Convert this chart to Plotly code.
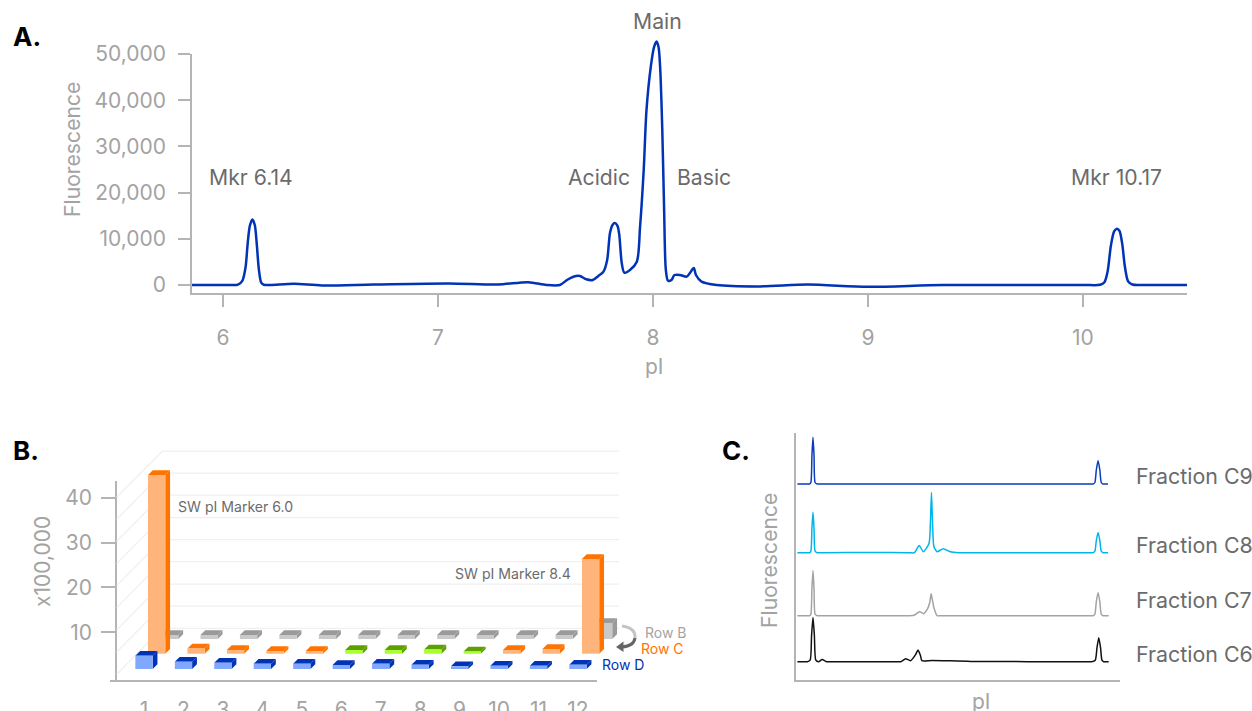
import plotly.graph_objects as go

W, H = 1252, 711
FONT = "Inter"
GREY_TICK = "#a3a3a3"
GREY_TEXT = "#6b6b6b"
AXIS_LINE = "#b4b4b4"

# ---------- Panel A: pI trace ----------
a_pi = [5.856, 6.0, 6.04, 6.07, 6.09, 6.105, 6.115, 6.125, 6.137, 6.148, 6.157, 6.167, 6.178, 6.19, 6.22, 6.33, 6.46, 6.7, 7.05,
        7.28, 7.42, 7.505, 7.567, 7.6, 7.63, 7.66, 7.69, 7.72, 7.746, 7.77, 7.787, 7.8, 7.812, 7.823, 7.835, 7.843, 7.855, 7.867,
        7.893, 7.925, 7.94, 7.957, 7.97, 7.99, 8.005, 8.017, 8.026, 8.033, 8.043, 8.052, 8.06, 8.07, 8.086, 8.10, 8.126, 8.157,
        8.172, 8.19, 8.2, 8.226, 8.296, 8.5, 8.72, 9.0, 9.35, 10.0, 10.08, 10.10, 10.115, 10.13, 10.145, 10.158, 10.17,
        10.183, 10.195, 10.21, 10.23, 10.27, 10.484]
a_fluor = [0, 0, 0, 100, 900, 3800, 9000, 12800, 14200, 13000, 9000, 3400, 500, 50, 0, 250, -100, 100, 350,
           100, 600, 0, 0, 1080, 1800, 1950, 1230, 1080, 1950, 2890, 5400, 11200, 13000, 13400, 12800, 11000, 4700, 2660,
           3250, 5040, 12600, 24900, 37900, 47260, 51500, 52700, 51500, 47500, 34300, 16200, 3250, 930, 1080, 2165, 2165, 1800,
           2600, 3680, 2165, 720, 0, -300, 100, -400, 0, 0, 50, 600, 3000, 8500, 11600, 12200, 11700,
           8800, 4000, 800, 100, 0, 0]
a_y_ticks = [0, 10000, 20000, 30000, 40000, 50000]
a_y_labels = ["0", "10,000", "20,000", "30,000", "40,000", "50,000"]
a_x_ticks = [6, 7, 8, 9, 10]

# ---------- Panel B: plate wells ----------
columns = [1, 2, 3, 4, 5, 6, 7, 8, 9, 10, 11, 12]
row_b = [0.9, 0.9, 0.9, 0.9, 0.9, 0.9, 0.9, 0.9, 0.9, 0.9, 0.9, 3.6]
row_c = [39.8, 1.19, 0.82, 0.6, 0.6, 0.82, 0.82, 0.96, 0.52, 0.82, 1.04, 21.1]
row_d = [2.97, 1.63, 1.41, 1.19, 1.19, 0.9, 1.19, 0.97, 0.6, 0.74, 0.74, 0.97]
row_c_color = ["orange"] * 5 + ["green"] * 4 + ["orange"] * 3
b_y_ticks = [10, 20, 30, 40]
wall_levels = [0.65, 5.6, 10.5, 15.5, 20.4, 25.3, 30.3, 35.2, 40.1]

# ---------- Panel C: fractions ----------
c9_pi = [5.92, 6.05, 6.09, 6.11, 6.125, 6.14, 6.155, 6.17, 6.20, 6.26, 10.04, 10.10, 10.125, 10.145, 10.17, 10.195, 10.215, 10.24, 10.27, 10.31]
c9_y = [0, 0, 0, 1.5, 28, 46.7, 28, 1.5, 0, 0, 0, 0, 1.5, 14, 23.3, 14, 1.5, 0, 0, 0]
c8_pi = [5.92, 6.05, 6.09, 6.11, 6.125, 6.14, 6.155, 6.17, 6.20, 6.26, 7.0, 7.50, 7.575, 7.64, 7.70, 7.78, 7.80, 7.815, 7.83, 7.85,
         7.895, 7.98, 8.08, 8.2, 8.4, 10.04, 10.10, 10.125, 10.145, 10.17, 10.195, 10.215, 10.24, 10.27, 10.31]
c8_y = [0, 0, 0, 1.5, 24, 40.7, 24, 1.5, 0, 0, 0.3, 0, 0, 7.3, 1, 9.3, 30, 60.3, 30, 6,
        1, 4, 1, 0, 0, 0, 0, 1.5, 12, 20.3, 12, 1.5, 0, 0, 0]
c7_pi = [5.92, 6.05, 6.09, 6.11, 6.125, 6.14, 6.155, 6.17, 6.20, 6.26, 7.40, 7.495, 7.57, 7.645, 7.705, 7.76, 7.79, 7.81, 7.83, 7.85,
         7.895, 7.95, 10.04, 10.10, 10.125, 10.145, 10.17, 10.195, 10.215, 10.24, 10.27, 10.32]
c7_y = [0, 0, 0, 1.5, 27, 45.3, 27, 1.5, 0, 0, 0, 0, 0.4, 4, 2, 7, 13, 22, 15, 8,
        0, 0, 0, 0, 1.5, 14, 23, 14, 1.5, 0, 0, 0]
c6_pi = [5.92, 6.03, 6.06, 6.10, 6.12, 6.14, 6.16, 6.18, 6.22, 6.27, 6.33, 6.40, 7.30, 7.38, 7.45, 7.52, 7.59, 7.625, 7.66, 7.68,
         7.825, 8.37, 10.02, 10.08, 10.13, 10.155, 10.18, 10.205, 10.225, 10.25, 10.28, 10.32]
c6_y = [0, 0, 0, 1.5, 26, 44.3, 26, 1.5, 0, 2.3, 0, 0, 0, 0, 3, 1, 7, 11.7, 6, 1,
        1.3, 0.3, 0, 0, 1.5, 14, 24, 14, 1.5, 0, 0, 0]
fraction_names = ["Fraction C9", "Fraction C8", "Fraction C7", "Fraction C6"]


def px(x):
    return x / W


def py(y):
    return 1 - y / H


fig = go.Figure()

# Axes that carry line, ticks and labels need one empty trace each
fig.add_trace(go.Scatter(x=[None], y=[None], xaxis="x", yaxis="y", hoverinfo="skip"))
fig.add_trace(go.Scatter(x=[None], y=[None], xaxis="x2", yaxis="y2", hoverinfo="skip"))

# Panel A, on a taller hidden axis of the same scale so the peak can rise above the 50,000 tick
A_TOP_PX = 30
a_per_px = (50000 + 1732) / (293 - 54)
a_hidden_top = 50000 + (54 - A_TOP_PX) * a_per_px
fig.add_trace(go.Scatter(x=a_pi, y=a_fluor, mode="lines", xaxis="x", yaxis="y4",
                         line=dict(color="#0033b5", width=2.5, shape="spline", smoothing=0.8), hoverinfo="skip"))

# Panel B: walls, on hidden axes of the same scale that reach past the visible axis lines
UX, UV = 39.45, 4.49   # pixels per column, pixels per axis unit
B_RIGHT_PX, B_TOP_PX = 645, 440
b_hidden_x = [0.138, 0.138 + (B_RIGHT_PX - 110) / UX]
b_hidden_y = [-0.62, -0.62 + (680 - B_TOP_PX) / UV]
wall_dx, wall_dy = 45.5 / UX, 46 / UV
wx, wy = [], []
for lv in wall_levels:
    wx += [0.308, 0.308 + wall_dx, 13.04, None]
    wy += [lv, lv + wall_dy, lv + wall_dy, None]
fig.add_trace(go.Scatter(x=wx, y=wy, mode="lines", xaxis="x5", yaxis="y5",
                         line=dict(color="#f0f0f0", width=1.3), hoverinfo="skip"))

PALETTE = {
    "grey": ("#c9c9c9", "#9a9a9a"),
    "orange": ("#ffb47c", "#ff7300"),
    "green": ("#a6ff2e", "#5fa000"),
    "blue": ("#80a8ff", "#0033b5"),
}
half = 8.65 / UX
dep_x, dep_y = 4.8 / UX, 4.7 / UV


def add_bar(col, value, x_shift, base, color):
    front, dark = PALETTE[color]
    x0, x1 = col + x_shift - half, col + x_shift + half
    y0, y1 = base, base + value
    faces = [
        ([x1, x1 + dep_x, x1 + dep_x, x1, x1], [y0, y0 + dep_y, y1 + dep_y, y1, y0], dark),
        ([x0, x0 + dep_x, x1 + dep_x, x1, x0], [y1, y1 + dep_y, y1 + dep_y, y1, y1], dark),
        ([x0, x1, x1, x0, x0], [y0, y0, y1, y1, y0], front),
    ]
    for fx, fy, c in faces:
        fig.add_trace(go.Scatter(x=fx, y=fy, mode="lines", fill="toself", fillcolor=c, xaxis="x5", yaxis="y5",
                                 line=dict(width=0), hoverinfo="skip"))


for c, v in zip(columns, row_b):
    add_bar(c, v, 0.65, 8.5, "grey")
for c, v, col in zip(columns, row_c, row_c_color):
    add_bar(c, v, 0.32, 5.23, col)
for c, v in zip(columns, row_d):
    add_bar(c, v, 0.0, 1.83, "blue")

# Panel C
offsets = [177.7, 109, 46, 0]
c_colors = ["#0a3db8", "#00b5e8", "#a3a3a3", "#111111"]
for xs, ys, off, colr in zip([c9_pi, c8_pi, c7_pi, c6_pi], [c9_y, c8_y, c7_y, c6_y], offsets, c_colors):
    fig.add_trace(go.Scatter(x=xs, y=[v + off for v in ys], mode="lines", xaxis="x3", yaxis="y3",
                             line=dict(color=colr, width=1.5, shape="spline", smoothing=0.6), hoverinfo="skip"))


def ax_common():
    return dict(showgrid=False, zeroline=False, showline=True, linecolor=AXIS_LINE, linewidth=1.5,
                tickfont=dict(family=FONT, size=21, color=GREY_TICK), fixedrange=True)


def note(text, x, y, size=21.2, color=GREY_TEXT, anchor="center", angle=0, weight=None):
    font = dict(family=FONT, size=size, color=color)
    if weight:
        font["weight"] = weight
    return dict(text=text, x=px(x), y=py(y), xref="paper", yref="paper", showarrow=False, xanchor=anchor,
                yanchor="middle", textangle=angle, font=font)


annotations = [
    note("A.", 11, 36, 26, "#000000", "left", weight=700),
    note("B.", 11, 450, 26, "#000000", "left", weight=700),
    note("C.", 720, 450, 26, "#000000", "left", weight=700),
    note("Main", 657, 21), note("Mkr 6.14", 250.5, 177), note("Acidic", 599, 177),
    note("Basic", 704, 177), note("Mkr 10.17", 1116, 177),
    note("Fluorescence", 72, 150, 21.2, GREY_TICK, angle=-90),
    note("pI", 654, 366, 21, GREY_TICK),
    note("x100,000", 42, 562, 21, GREY_TICK, angle=-90),
    note("SW pI Marker 6.0", 176, 507, 14.1, GREY_TEXT, "left"),
    note("SW pI Marker 8.4", 573, 573, 14.1, GREY_TEXT, "right"),
    note("Row B", 643, 632, 14, "#a3a3a3", "left"),
    note("Row C", 639, 648, 14, "#ff7300", "left"),
    note("Row D", 600, 664, 14, "#0033b5", "left"),
    note("Fluorescence", 769, 561, 21.2, GREY_TICK, angle=-90),
    note("pI", 981, 701, 21, GREY_TICK),
]
for name, yy in zip(fraction_names, [476, 545, 600, 654]):
    annotations.append(note(name, 1134, yy, 21.4, GREY_TEXT, "left"))


def arc(points, color):
    (x0, y0), (cx, cy), (x1, y1) = points
    return dict(type="path", xref="paper", yref="paper",
                path=f"M {px(x0)} {py(y0)} Q {px(cx)} {py(cy)} {px(x1)} {py(y1)}",
                line=dict(color=color, width=3))


shapes = [
    arc([(622, 626), (636, 628), (635, 638)], "#c4c4c4"),
    arc([(635, 638), (634, 646), (622, 647)], "#666666"),
    dict(type="path", xref="paper", yref="paper",
         path=f"M {px(616)} {py(647)} L {px(623.5)} {py(641.5)} L {px(623.5)} {py(652)} Z",
         fillcolor="#666666", line=dict(width=0)),
]

fig.update_layout(
    width=W, height=H, margin=dict(l=0, r=0, t=0, b=0, autoexpand=False), autosize=False,
    paper_bgcolor="white", plot_bgcolor="rgba(0,0,0,0)", showlegend=False,
    font=dict(family=FONT),
    annotations=annotations, shapes=shapes,
    xaxis=dict(**ax_common(), domain=[px(192), px(1187)], range=[5.856, 10.484], anchor="y",
               tickvals=a_x_ticks, ticks="outside", ticklen=12, tickcolor=AXIS_LINE, tickwidth=1.5,
               ticklabelstandoff=13),
    yaxis=dict(**ax_common(), domain=[py(293), py(54)], range=[-1732, 50000], anchor="x",
               tickvals=a_y_ticks, ticktext=a_y_labels, ticks="outside", ticklen=12, tickcolor=AXIS_LINE,
               tickwidth=1.5, ticklabelstandoff=8),
    yaxis4=dict(visible=False, domain=[py(293), py(A_TOP_PX)], range=[-1732, a_hidden_top], anchor="x", fixedrange=True),
    xaxis2=dict(**ax_common(), domain=[px(110), px(597)], range=[0.138, 12.483], anchor="y2",
                tickvals=columns, ticks="", ticklabelstandoff=10),
    yaxis2=dict(**ax_common(), domain=[py(680), py(481)], range=[-0.62, 43.7], anchor="free", position=px(116),
                tickvals=b_y_ticks, ticks="outside", ticklen=14, tickcolor=AXIS_LINE, tickwidth=1.5,
                ticklabelstandoff=5),
    xaxis5=dict(visible=False, domain=[px(110), px(B_RIGHT_PX)], range=b_hidden_x, anchor="y5", fixedrange=True),
    yaxis5=dict(visible=False, domain=[py(680), py(B_TOP_PX)], range=b_hidden_y, anchor="x5", fixedrange=True),
    xaxis3=dict(**ax_common(), domain=[px(796), px(1120)], range=[5.90, 10.48], anchor="y3",
                showticklabels=False, ticks=""),
    yaxis3=dict(**ax_common(), domain=[py(680), py(433)], range=[-18.3, 228.7], anchor="x3",
                showticklabels=False, ticks=""),
)

fig.write_html("out.html", config={"displayModeBar": False},
               post_script="document.body.style.margin='0';")
